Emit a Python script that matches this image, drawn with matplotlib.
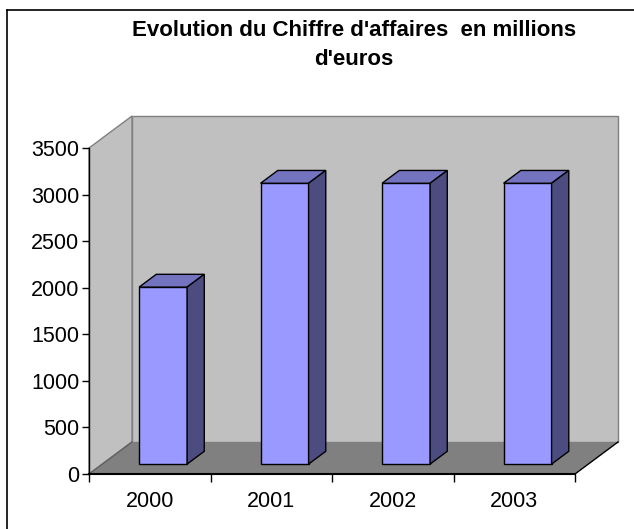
import numpy as np
import matplotlib.pyplot as plt
from matplotlib.patches import Polygon
from matplotlib.lines import Line2D

plt.rcParams['font.family'] = ['Liberation Sans', 'DejaVu Sans']

# Data
years = ['2000', '2001', '2002', '2003']
chiffre = [1900, 3015, 3015, 3015]
y_ticks = [0, 500, 1000, 1500, 2000, 2500, 3000, 3500]

# Colours (Excel style)
wall_col = '#C0C0C0'
floor_col = '#808080'
front_col = '#9999FF'
top_col = '#7373C0'
side_col = '#4C4C80'

W, H = 634, 529
fig = plt.figure(figsize=(W / 100, H / 100), dpi=100)

# Frame of the chart area (only left/top visible in the crop)
fig.add_artist(Line2D([7 / W, 7 / W], [0, 1 - 10 / H], color='black', lw=1.2))
fig.add_artist(Line2D([7 / W, 1], [1 - 10 / H, 1 - 10 / H], color='black', lw=1.2))

# Axes box = front plane of the 3D chart
ax_l, ax_r, ax_b, ax_t = 89, 575, 474, 148
ax = fig.add_axes([ax_l / W, 1 - ax_b / H, (ax_r - ax_l) / W, (ax_b - ax_t) / H])
n = len(years)
ymax = 3500
ax.set_xlim(-0.5, n - 0.5)
ax.set_ylim(0, ymax)
ax.patch.set_visible(False)

# depth offset in data units
px_x = n / (ax_r - ax_l)
px_y = ymax / (ax_b - ax_t)
DX = 43 * px_x
DY = 32 * px_y

# walls and floor
x0, x1 = -0.5, n - 0.5
back = Polygon([(x0 + DX, DY), (x1 + DX, DY), (x1 + DX, ymax + DY), (x0 + DX, ymax + DY)],
               closed=True, fc=wall_col, ec='#808080', lw=1, clip_on=False, zorder=0)
left = Polygon([(x0, 0), (x0 + DX, DY), (x0 + DX, ymax + DY), (x0, ymax)],
               closed=True, fc=wall_col, ec='#808080', lw=1, clip_on=False, zorder=0)
floor = Polygon([(x0, 0), (x1, 0), (x1 + DX, DY), (x0 + DX, DY)],
                closed=True, fc=floor_col, ec='none', clip_on=False, zorder=1)
ax.add_patch(back)
ax.add_patch(left)
ax.add_patch(floor)
ax.plot([x0, x0 + DX], [0, DY], color='#606060', lw=1, clip_on=False, zorder=1.5)
ax.plot([x1, x1 + DX], [0, DY], color='black', lw=1, clip_on=False, zorder=1.5)

# bars
d1 = 0.31   # depth of the bar front face
dd = 0.40   # bar depth
bw = 48 * px_x
for i, v in enumerate(chiffre):
    bx = i + d1 * DX - bw / 2
    by = d1 * DY
    ax.bar(i + d1 * DX, v, width=bw, bottom=by, color=front_col,
           edgecolor='black', lw=1, zorder=3, clip_on=False)
    top = [(bx, by + v), (bx + bw, by + v),
           (bx + bw + dd * DX, by + v + dd * DY), (bx + dd * DX, by + v + dd * DY)]
    side = [(bx + bw, by), (bx + bw + dd * DX, by + dd * DY),
            (bx + bw + dd * DX, by + v + dd * DY), (bx + bw, by + v)]
    ax.add_patch(Polygon(top, closed=True, fc=top_col, ec='black', lw=1, zorder=3, clip_on=False))
    ax.add_patch(Polygon(side, closed=True, fc=side_col, ec='black', lw=1, zorder=3, clip_on=False))

# axes styling
for s in ['top', 'right']:
    ax.spines[s].set_visible(False)
ax.spines['left'].set_zorder(2)
ax.spines['bottom'].set_zorder(2)
ax.spines['left'].set_linewidth(1)
ax.spines['bottom'].set_linewidth(1.5)

ax.set_yticks(y_ticks)
ax.set_yticklabels([str(t) for t in y_ticks])
ax.tick_params(axis='y', direction='out', length=5, width=1, pad=2, labelsize=15.5)
ax.set_xticks(range(n))
ax.set_xticklabels(years)
ax.set_xticks(np.arange(-0.5, n, 1), minor=True)
ax.tick_params(axis='x', which='major', length=0, pad=12, labelsize=15.5)
ax.tick_params(axis='x', which='minor', direction='out', length=6, width=1)

fig.text(354 / W, 1 - 45 / H, "Evolution du Chiffre d'affaires  en millions\nd'euros",
         ha='center', va='center', fontsize=16, fontweight='bold', linespacing=1.46)

fig.savefig('out.png', dpi=100)
